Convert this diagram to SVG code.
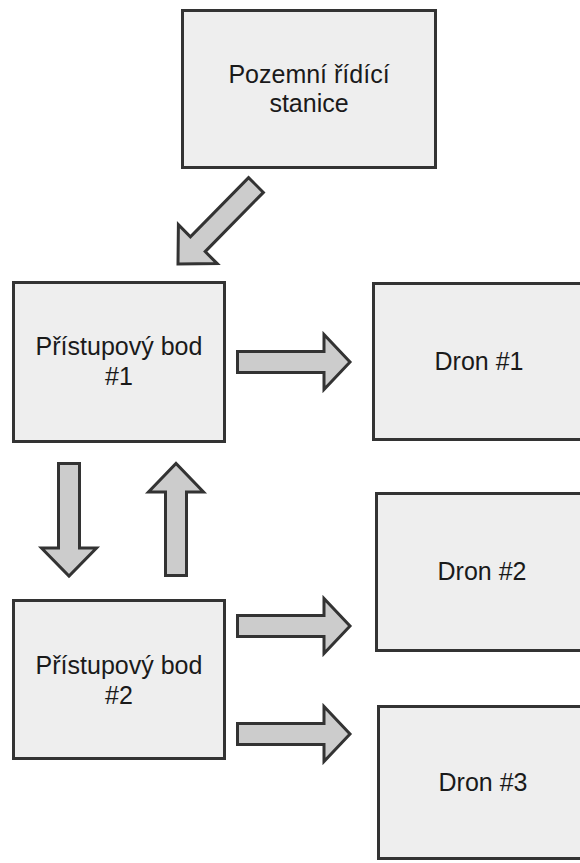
<svg xmlns="http://www.w3.org/2000/svg" width="580" height="863" viewBox="0 0 580 863">
<style>
.box{fill:#eeeeee;stroke:#333333;stroke-width:3}
.arr{fill:#cccccc;stroke:#333333;stroke-width:3;stroke-linejoin:miter}
.lbl{font-family:"Liberation Sans",Arial,sans-serif;font-size:25px;fill:#1a1a1a;text-anchor:middle}
</style>
<rect width="580" height="863" fill="#ffffff"/>
<g id="ground-station">
<rect class="box" x="182.5" y="10.5" width="253" height="157"/>
<text class="lbl" x="309" y="83">Pozemní řídící</text>
<text class="lbl" x="309" y="112">stanice</text>
</g>
<g id="access-point-1">
<rect class="box" x="13.5" y="282.5" width="211" height="159"/>
<text class="lbl" x="119" y="355">Přístupový bod</text>
<text class="lbl" x="119" y="385">#1</text>
</g>
<g id="access-point-2">
<rect class="box" x="13.5" y="600.5" width="211" height="158"/>
<text class="lbl" x="119" y="674">Přístupový bod</text>
<text class="lbl" x="119" y="704">#2</text>
</g>
<g id="drone-1">
<rect class="box" x="373.5" y="283.5" width="211" height="156"/>
<text class="lbl" x="479" y="370">Dron #1</text>
</g>
<g id="drone-2">
<rect class="box" x="376.5" y="493.5" width="211" height="157"/>
<text class="lbl" x="482" y="580">Dron #2</text>
</g>
<g id="drone-3">
<rect class="box" x="378.5" y="706.5" width="211" height="152"/>
<text class="lbl" x="483" y="791">Dron #3</text>
</g>
<g id="connectors">
<polygon class="arr" points="248.6,177.6 190.4,236.8 178.4,224.7 178,264 217.2,263.6 205.2,251.6 263.4,192.4"/>
<polygon class="arr" points="237.5,351.5 324,351.5 324,334.5 350,362 324,389.5 324,372.5 237.5,372.5"/>
<polygon class="arr" points="237.5,615.5 324,615.5 324,598.5 350,626 324,653.5 324,636.5 237.5,636.5"/>
<polygon class="arr" points="237.5,723.5 324,723.5 324,706.5 350,734 324,761.5 324,744.5 237.5,744.5"/>
<polygon class="arr" points="58.5,463.5 79.5,463.5 79.5,548 96.5,548 69,576 41.5,548 58.5,548"/>
<polygon class="arr" points="165.5,575.5 186.5,575.5 186.5,492 203.5,492 176,463.5 148.5,492 165.5,492"/>
</g>
</svg>
